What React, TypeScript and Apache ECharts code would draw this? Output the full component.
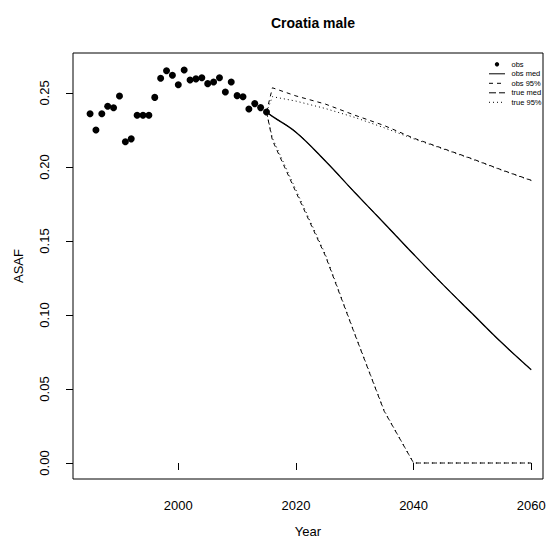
import React, { useEffect, useRef } from "react";
import * as echarts from "echarts";

const obsYears = [1985, 1986, 1987, 1988, 1989, 1990, 1991, 1992, 1993, 1994, 1995, 1996, 1997, 1998, 1999, 2000, 2001, 2002, 2003, 2004, 2005, 2006, 2007, 2008, 2009, 2010, 2011, 2012, 2013, 2014, 2015];
const obsValues = [0.236, 0.225, 0.236, 0.241, 0.240, 0.248, 0.217, 0.219, 0.235, 0.235, 0.235, 0.247, 0.260, 0.265, 0.262, 0.2556, 0.2655, 0.2588, 0.2595, 0.2603, 0.2563, 0.2574, 0.2603, 0.2507, 0.2574, 0.2482, 0.2475, 0.2392, 0.2428, 0.2401, 0.2372];

const projYears = [2015, 2016, 2020, 2025, 2030, 2035, 2040, 2045, 2050, 2055, 2060];
const obsMed = [0.2372, 0.2342, 0.2235, 0.204, 0.1828, 0.162, 0.141, 0.1205, 0.1008, 0.0812, 0.063];
const trueMed = [0.2372, 0.2342, 0.2235, 0.204, 0.1828, 0.162, 0.141, 0.1205, 0.1008, 0.0812, 0.063];
const obsUpper = [0.2372, 0.2535, 0.248, 0.2425, 0.235, 0.228, 0.2195, 0.2125, 0.2055, 0.198, 0.191];
const obsLower = [0.2372, 0.218, 0.183, 0.14, 0.087, 0.035, 0.0, 0.0, 0.0, 0.0, 0.0];
const trueUpper = [0.2372, 0.2475, 0.2445, 0.2395, 0.2335, 0.2265, 0.219, 0.2122, 0.2052, 0.1978, 0.1908];
const trueLower = [0.2372, 0.2195, 0.1845, 0.141, 0.0875, 0.0355, 0.0, 0.0, 0.0, 0.0, 0.0];

const xTicks = [2000, 2020, 2040, 2060];
const yTicks = [0, 0.05, 0.1, 0.15, 0.2, 0.25];
const legendNames = ["obs", "obs med", "obs 95%", "true med", "true 95%"];

const FONT = "'Liberation Sans', Arial, Helvetica, sans-serif";

function pairs(xs: number[], ys: number[]) {
  return xs.map((x, i) => [x, ys[i]]);
}

export default function App() {
  const ref = useRef<HTMLDivElement>(null);
  useEffect(() => {
    if (!ref.current) return;
    const chart = echarts.init(ref.current, null, { renderer: "svg" });
    const lineSeries = (name: string, ys: number[], type: any, width: number, smooth: boolean) => ({
      name,
      type: "line",
      data: pairs(projYears, ys),
      showSymbol: false,
      symbol: "none",
      smooth: smooth ? 0.4 : false,
      lineStyle: { color: "#000", width, type, opacity: 1 },
      z: 2,
    });
    const legX1 = 489;
    const legX2 = 505;
    const legTextX = 511.5;
    const legY0 = 64.3;
    const legDy = 9.5;
    const legendStyles: any[] = [null, "solid", [4, 4], [7, 3], [1, 3]];
    const legendGraphics: any[] = [];
    legendNames.forEach((n, i) => {
      const y = legY0 + i * legDy;
      if (i === 0) {
        legendGraphics.push({ type: "circle", shape: { cx: (legX1 + legX2) / 2, cy: y, r: 2.2 }, style: { fill: "#000" } });
      } else {
        legendGraphics.push({
          type: "line",
          shape: { x1: legX1, y1: y, x2: legX2, y2: y },
          style: { stroke: "#000", lineWidth: 1, lineDash: legendStyles[i] === "solid" ? null : legendStyles[i] },
        });
      }
      legendGraphics.push({
        type: "text",
        x: legTextX,
        y,
        style: { text: n, font: `7.5px ${FONT}`, fill: "#000", verticalAlign: "middle", align: "left" },
      });
    });
    chart.setOption({
      animation: false,
      backgroundColor: "#fff",
      title: {
        text: "Croatia male",
        left: 308,
        top: 11,
        textAlign: "center",
        textStyle: { fontFamily: FONT, fontSize: 14, fontWeight: "bold", color: "#000" },
      },
      grid: { left: 73, top: 53, width: 470, height: 426, show: true, borderColor: "#000", borderWidth: 1, containLabel: false },
      xAxis: {
        type: "value",
        min: 1982.1,
        max: 2062,
        name: "Year",
        nameLocation: "middle",
        nameGap: 46,
        nameTextStyle: { fontFamily: FONT, fontSize: 13, color: "#000" },
        axisLine: { show: false },
        splitLine: { show: false },
        axisTick: { show: true, customValues: xTicks, length: 7, inside: false, lineStyle: { color: "#000" } },
        axisLabel: {
          customValues: xTicks,
          fontFamily: FONT,
          fontSize: 13,
          color: "#000",
          margin: 20,
          formatter: (v: number) => String(Math.round(v)),
        },
      },
      yAxis: {
        type: "value",
        min: -0.0108,
        max: 0.277,
        name: "ASAF",
        nameLocation: "middle",
        nameGap: 48,
        nameTextStyle: { fontFamily: FONT, fontSize: 13, color: "#000" },
        axisLine: { show: false },
        splitLine: { show: false },
        axisTick: { show: true, customValues: yTicks, length: 7, inside: false, lineStyle: { color: "#000" } },
        axisLabel: {
          customValues: yTicks,
          rotate: 90,
          fontFamily: FONT,
          fontSize: 13,
          color: "#000",
          margin: 22,
          formatter: (v: number) => v.toFixed(2),
        },
      },
      series: [
        {
          name: "obs",
          type: "scatter",
          data: pairs(obsYears, obsValues),
          symbol: "circle",
          symbolSize: 7,
          itemStyle: { color: "#000", opacity: 1 },
          z: 3,
        },
        lineSeries("true med", trueMed, [7, 3], 1, true),
        lineSeries("obs med", obsMed, "solid", 1.3, true),
        lineSeries("obs 95% upper", obsUpper, [4, 4], 1, false),
        lineSeries("obs 95% lower", obsLower, [4, 4], 1, false),
        lineSeries("true 95% upper", trueUpper, [1, 3], 1, false),
        lineSeries("true 95% lower", trueLower, [1, 3], 1, false),
      ],
      graphic: legendGraphics,
    });
    return () => chart.dispose();
  }, []);
  return <div ref={ref} style={{ position: "absolute", left: 0, top: 0, width: 550, height: 546 }} />;
}
